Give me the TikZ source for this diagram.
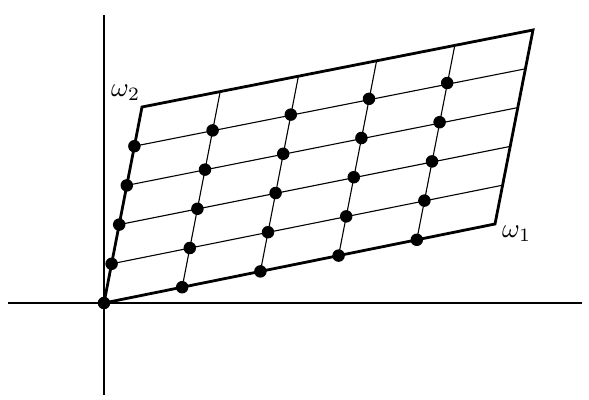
\documentclass[tikz,border=0pt]{standalone}
\usepackage{graphicx}
\usetikzlibrary{calc}
\begin{document}
\begin{tikzpicture}[x=1pt,y=-1pt,
  axis/.style={line width=1.3pt},
  edge/.style={line width=2.8pt,line join=miter},
  gridline/.style={line width=1.1pt},
  dot/.style={circle,fill=black,inner sep=0pt,minimum size=12.5pt},
  lbl/.style={inner sep=0pt,anchor=base west}]
\useasboundingbox (0,0) rectangle (589,399);
\coordinate (O) at (104,303);
\coordinate (A) at (495,224);
\coordinate (B) at (142,107);
\coordinate (C) at (533,30);
\coordinate (xl) at (8,303);
\coordinate (xr) at (582,303);
\coordinate (yt) at (104,15);
\coordinate (yb) at (104,395);
\draw[axis] (xl) -- (xr);
\draw[axis] (yt) -- (yb);
\foreach \k in {1,...,4}{
  \draw[gridline] ($(O)!\k/5!(A)$) -- ($(B)!\k/5!(C)$);
  \draw[gridline] ($(O)!\k/5!(B)$) -- ($(A)!\k/5!(C)$);
}
\draw[edge] (O) -- (A) -- (C) -- (B) -- cycle;
\foreach \i in {0,...,4}{
  \foreach \j in {0,...,4}{
    \node[dot] (d\i\j) at ($(O)+\i/5*(391,-79)+\j/5*(38,-196)$) {};
  }
}
\node[lbl] (w2) at (111,96) {\scalebox{2.7}{$\omega_2$}};
\node[lbl] (w1) at (502,237) {\scalebox{2.7}{$\omega_1$}};
\end{tikzpicture}
\end{document}
